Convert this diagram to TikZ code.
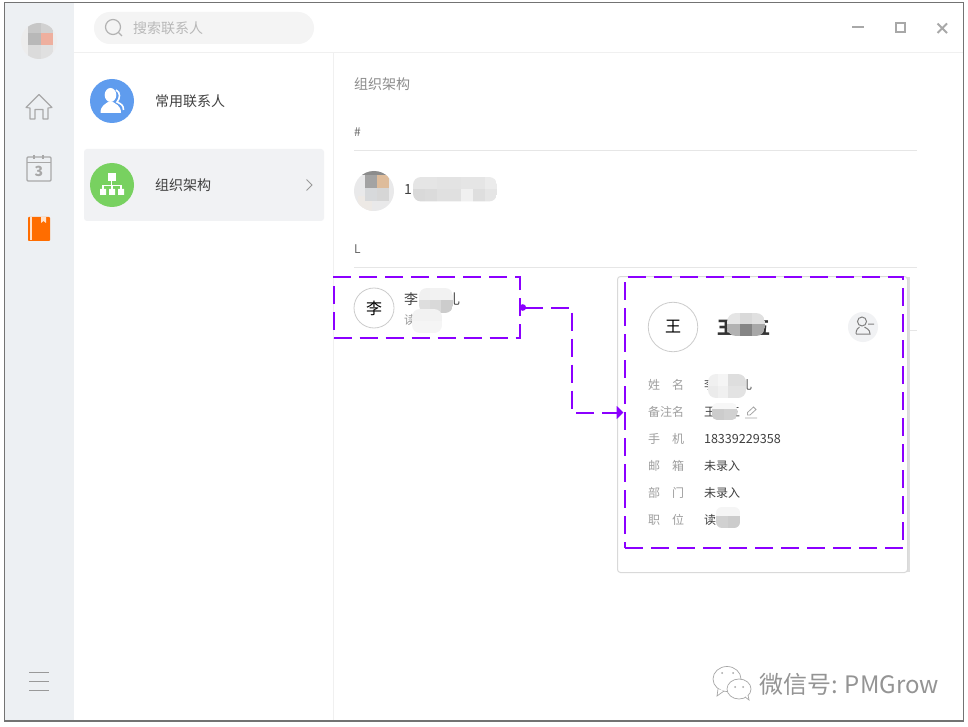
\documentclass[tikz,border=0pt]{standalone}
\usepackage{fontspec}
\setmainfont{Noto Sans CJK SC}
\usetikzlibrary{arrows.meta}
\usetikzlibrary{positioning}
\definecolor{railgray}{HTML}{EDF0F3}
\definecolor{rulegray}{HTML}{E6E6E6}
\definecolor{icongray}{HTML}{A8A8A8}
\definecolor{markpurple}{HTML}{8B00FF}
\definecolor{pillgray}{HTML}{F4F4F4}
\definecolor{rowgray}{HTML}{F1F2F4}
\definecolor{bookorange}{HTML}{FF6D00}
\definecolor{discblue}{HTML}{5F9CEE}
\definecolor{discgreen}{HTML}{78D160}
\newcommand{\cnsize}[1]{\fontsize{#1}{#1}\selectfont}
% mosaic patch over a hidden name: corners, then cells x0/y0/x1/y1/tone
\newcommand{\blurpatch}[4]{%
	\begin{scope}
		\clip[rounded corners=#3pt] #1 rectangle #2;
		\foreach \xa/\ya/\xb/\yb/\tone in {#4}
			\fill[black!\tone] (\xa,\ya) rectangle (\xb,\yb);
	\end{scope}}
\tikzset{
	>=Stealth,
	txt/.style={anchor=west, inner sep=0pt, outer sep=0pt, text=black!75},
	navlabel/.style={txt, font=\cnsize{14}},
	headlabel/.style={txt, font=\cnsize{14}, text=black!45},
	fieldlabel/.style={txt, font=\cnsize{12}, text=black!38},
	fieldvalue/.style={txt, font=\cnsize{12}},
	avatar/.style={
		circle,
		draw=black!20,
		fill=white,
		line width=0.8pt,
		inner sep=0pt},
	navdisc/.style={circle, minimum size=44pt, inner sep=0pt},
	markbox/.style={
		rectangle,
		draw=markpurple,
		line width=2pt,
		dash pattern=on 18pt off 8pt,
		inner sep=0pt, outer sep=0pt},
	marklink/.style={
		draw=markpurple,
		line width=2pt,
		dash pattern=on 18pt off 8pt,
		{Circle[length=6.5pt]}-{Triangle[length=7pt,width=13pt]},
		shorten >=1.5pt},
	rail/.style={draw=icongray, line width=1.1pt},
	sepline/.style={draw=rulegray, line width=0.9pt},
	winbtn/.style={draw=icongray, line width=2pt},
}
\begin{document}
\begin{tikzpicture}[x=1pt,y=-1pt]
	\useasboundingbox (0,0) rectangle (968,727);
	\fill[white] (0,0) rectangle (968,727);
	% left rail
	\fill[railgray] (5,3) rectangle (74,721);
	\draw[sepline, draw=black!6] (74,52.5) -- (964,52.5);
	\draw[sepline, draw=black!6] (333.5,52.5) -- (333.5,721);
	\begin{scope}
		\clip (39,41) circle (18);
		\fill[black!7] (20,22) rectangle (58,60);
		\fill[black!22] (28,23) rectangle (41,33);
		\fill[black!18] (41,23) rectangle (53,33);
		\fill[black!28] (28,33) rectangle (41,45);
		\fill[brown!60!red!45!white] (41,33) rectangle (53,45);
		\fill[black!14] (28,45) rectangle (41,60);
		\fill[black!12] (41,45) rectangle (53,60);
	\end{scope}
	\draw[rail, line join=round] (30,119) -- (30,108) -- (26,107.5) -- (39,94.5) -- (52,107.5) -- (48,108) -- (48,119) -- (43,119) -- (43,109.5) -- (35,109.5) -- (35,119) -- cycle;
	\draw[rail, rounded corners=1pt] (27,157) rectangle (51,181);
	\draw[rail] (27,162.5) -- (51,162.5);
	\draw[rail, line width=1.6pt] (34,155) -- (34,159) (43,155) -- (43,159);
	\node[inner sep=0pt, text=icongray, font=\cnsize{14}\bfseries] (calnum) at (39,171) {3};
	\fill[bookorange, rounded corners=0.8pt] (28,217) rectangle (50,241);
	\fill[white!80!bookorange] (29.5,217.5) rectangle (32,240);
	\fill[white!80!bookorange] (41,217) -- (46,217) -- (46,223) -- (43.5,221) -- (41,223) -- cycle;
	\draw[rail, line width=1pt, draw=black!40] (29,672) -- (49,672) (29,681) -- (49,681) (29,690) -- (49,690);
	% search bar and window buttons
	\fill[pillgray, rounded corners=16pt] (94,12) rectangle (314,44);
	\draw[line width=1.2pt, draw=black!30] (113,27) circle (7.5) (118.5,32.5) -- (122,36);
	\node[txt, font=\cnsize{14}, text=black!28] (searchtxt) at (133,28) {搜索联系人};
	\draw[winbtn] (852,27.5) -- (864,27.5);
	\draw[winbtn] (896,23.5) rectangle (904.5,32);
	\draw[winbtn] (937.5,23.5) -- (947,33) (947,23.5) -- (937.5,33);
	% nav list
	\fill[rowgray, rounded corners=3pt] (84,149) rectangle (324,221);
	\node[navdisc, fill=discblue] (commondisc) at (112,101) {};
	\fill[white] (110.5,95) ellipse (5.8 and 7);
	\fill[white] (100.5,113) .. controls (100.5,105) and (106,104) .. (108,102) -- (113,102) .. controls (115,104) and (121,105) .. (121,113) -- cycle;
	\draw[white, line width=1.6pt] (116,90) .. controls (121,92) and (120,99) .. (117,102) .. controls (121,104) and (123.5,105) .. (123.5,110);
	\node[navlabel] (commontxt) at (155,101) {常用联系人};
	\node[navdisc, fill=discgreen] (orgdisc) at (112,185) {};
	\fill[white] (107.5,173) rectangle (115.7,181);
	\fill[white] (100,189) rectangle (106,195) (109,189) rectangle (115,195) (118,189) rectangle (124,195);
	\draw[white, line width=1.2pt] (111.6,181) -- (111.6,185.5) (103,189) -- (103,185.5) -- (121,185.5) -- (121,189) (112,185.5) -- (112,189);
	\node[navlabel] (orgtxt) at (155,185) {组织架构};
	\draw[line width=1pt, draw=black!40] (306.5,179.5) -- (312,185) -- (306.5,190.5);
	% contact list
	\node[headlabel] (orghead) at (354,84) {组织架构};
	\node[headlabel, font=\cnsize{12}, text=black!60] (hashhead) at (354,132) {\#};
	\draw[sepline] (354,150.5) -- (917,150.5);
	\begin{scope}
		\clip (374,191) circle (20);
		\fill[cyan!6!black!10] (354,171) rectangle (394,211);
		\fill[orange!30!black!10] (358,196) rectangle (372,211);
		\fill[black!45] (362,170) rectangle (388,175);
		\fill[black!36] (365,175) rectangle (377,188);
		\fill[brown!75!white!70] (377,175) rectangle (389,188);
		\fill[cyan!10!black!18] (365,188) rectangle (377,201);
		\fill[black!16] (377,188) rectangle (389,201);
	\end{scope}
	\node[txt, font=\cnsize{14}] (firstid) at (404,190) {1};
	\blurpatch{(413,177)}{(497,201.5)}{8}{413/177/437/189/10,437/177/461/189/11,461/177/485/189/10,485/177/497/189/8,413/189/425/202/15,425/189/437/202/14,437/189/461/202/12,461/189/473/202/6,473/189/485/202/13,485/189/497/202/10}
	\node[headlabel, font=\cnsize{12}, text=black!60] (lhead) at (354,249) {L};
	\draw[sepline] (354,267.5) -- (917,267.5);
	\node[avatar, minimum size=40pt, font=\cnsize{16}, text=black] (liavatar) at (374,308) {李};
	\node[txt, font=\cnsize{14}] (liname) at (404,299) {李};
	\node[txt, font=\cnsize{14}] (liend) at (446,299) {礼};
	\node[txt, font=\cnsize{12}, text=black!40] (lirole) at (404,320) {读};
	\blurpatch{(419,288)}{(453,313)}{8}{419/288/430/300/6,430/288/453/300/5,419/300/430/313/13,430/300/441/313/15,441/300/453/313/20}
	\blurpatch{(412,309)}{(442,333)}{8}{412/309/442/321/5,412/321/442/333/4}
	% profile card
	\draw[sepline] (908,330.5) -- (917,330.5);
	\fill[black!13] (905,277) rectangle (910,572);
	\node[rectangle, rounded corners=3pt, draw=black!15, fill=white, line width=1pt, minimum width=290pt, minimum height=296pt, inner sep=0pt] (card) at (762.5,424.5) {};
	\node[avatar, minimum size=49.5pt, font=\cnsize{16}, text=black] (wangavatar) at (673,327) {王};
	\node[txt, font=\cnsize{18}\bfseries, text=black!80] (wangtitle) at (717,328) {王};
	\node[txt, font=\cnsize{18}\bfseries, text=black!80] (wangend) at (752,328) {五};
	\blurpatch{(727,313)}{(765,336)}{9}{727/313/740/324/10,740/313/752/324/15,752/313/765/324/12,727/324/740/336/30,740/324/752/336/48,752/324/765/336/34}
	\node[circle, fill=rowgray, minimum size=30pt, inner sep=0pt] (unfollow) at (863,327) {};
	\draw[line width=1pt, draw=black!50] (862,321.5) circle (4.5) (856,334) -- (870,334) .. controls (870,329) and (866,328.5) .. (864.5,327) (859.5,327) .. controls (858,328.5) and (856,329) .. (856,334) (868,324) -- (874,324);
	% field rows
	\foreach \i/\ypos/\lab in {1/385/姓\hspace{12pt}名, 2/412/备注名, 3/439/手\hspace{12pt}机, 4/466/邮\hspace{12pt}箱, 5/492.5/部\hspace{12pt}门, 6/520/职\hspace{12pt}位}
		\node[fieldlabel] (lab\i) at (648,\ypos) {\lab};
	\node[fieldvalue] (val1) at (704,385) {李};
	\node[fieldvalue] (val1end) at (740,385) {礼};
	\blurpatch{(708,374)}{(746,398)}{8}{708/374/718/386/6,718/374/728/386/4,728/374/746/386/13,708/386/718/398/8,718/386/728/398/6,728/386/746/398/11}
	\node[fieldvalue] (val2) at (704,412) {王};
	\node[fieldvalue] (val2end) at (728,412) {五};
	\blurpatch{(712,403)}{(737,420)}{5}{712/403/737/409/3,712/409/724/420/20,724/409/737/420/18}
	\draw[line width=0.8pt, draw=black!35] (747.5,415) -- (747.5,412.5) -- (753.5,407) -- (756,409.5) -- (750,415) -- cycle (745,418) -- (757,418);
	\node[fieldvalue, font=\cnsize{12.6}] (val3) at (704,439) {18339229358};
	\node[fieldvalue] (val4) at (704,466) {未录入};
	\node[fieldvalue] (val5) at (704,492.5) {未录入};
	\node[fieldvalue] (val6) at (704,520) {读};
	\blurpatch{(716,507)}{(740,528)}{6}{716/507/740/516/4,716/516/728/528/18,728/516/740/528/20}
	% watermark
	\begin{scope}[draw=black!35, line width=0.7pt]
		\draw[fill=white] (727,679) ellipse (14 and 12.5);
		\draw[fill=white] (718,689) -- (717,696) -- (724,691);
		\draw[fill=white] (739,689) ellipse (12 and 10);
		\draw[fill=white] (745,697) -- (749,700) -- (748,695);
		\fill[black!35] (722,673) circle (1) (733,673) circle (1) (735,687) circle (1) (743,687) circle (1);
	\end{scope}
	\node[txt, font=\cnsize{24}, text=black!42] (wmark) at (759,684) {微信号: PMGrow};
	% marks and their link
	\node[markbox, minimum width=186pt, minimum height=61pt] (srcbox) at (426.5,307.5) {};
	\node[markbox, minimum width=278pt, minimum height=271pt] (cardbox) at (764,412.5) {};
	\coordinate (bend) at (572,360);
	\draw[marklink] (srcbox.east) -| (bend) |- (cardbox.west);
	% outer frame
	\draw[draw=black!55, line width=1.2pt] (4.5,2.5) rectangle (963.5,721);
\end{tikzpicture}
\end{document}
